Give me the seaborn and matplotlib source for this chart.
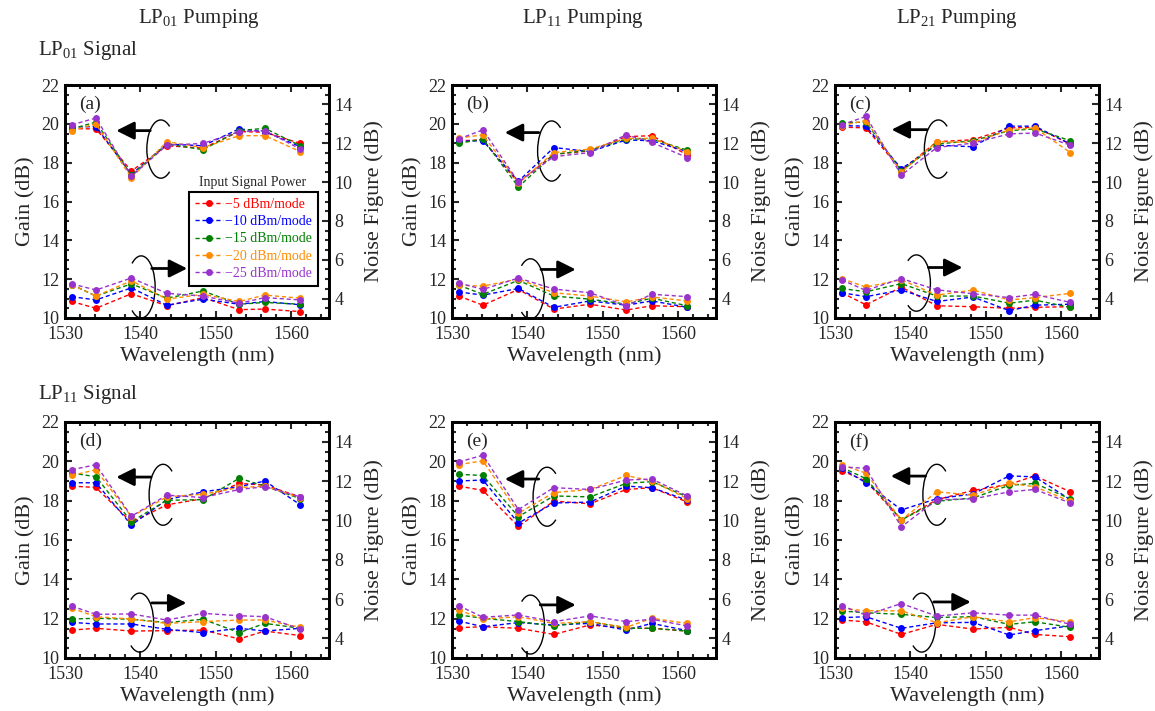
import numpy as np
import pandas as pd
import matplotlib
matplotlib.use("Agg")
import matplotlib.pyplot as plt
import seaborn as sns
from matplotlib.patches import Arc
from matplotlib.lines import Line2D
from matplotlib.ticker import MultipleLocator

# --- data ---
wavelength = [1530.9, 1534.1, 1538.8, 1543.5, 1548.3, 1553.1, 1556.5, 1561.2]
powers = ["\u22125 dBm/mode", "\u221210 dBm/mode", "\u221215 dBm/mode",
          "\u221220 dBm/mode", "\u221225 dBm/mode"]
colors = ["#ff0000", "#0000ff", "#008000", "#ff8c00", "#9933cc"]
panel_tags = ["(a)", "(b)", "(c)", "(d)", "(e)", "(f)"]
pump_titles = ["LP$_{01}$ Pumping", "LP$_{11}$ Pumping", "LP$_{21}$ Pumping"]
signal_titles = ["LP$_{01}$ Signal", "LP$_{11}$ Signal"]

# gain (dB), rows: -5, -10, -15, -20, -25 dBm/mode
gain_a = [[19.75, 19.74, 17.57, 18.87, 18.75, 19.60, 19.57, 18.99],
          [19.83, 19.86, 17.39, 18.96, 18.87, 19.74, 19.60, 18.82],
          [19.74, 20.09, 17.36, 18.96, 18.67, 19.65, 19.77, 18.87],
          [19.65, 20.00, 17.22, 19.08, 18.78, 19.39, 19.39, 18.57],
          [19.95, 20.30, 17.30, 18.90, 18.99, 19.60, 19.65, 18.70]]
gain_b = [[19.13, 19.17, 16.96, 18.43, 18.61, 19.34, 19.39, 18.40],
          [19.10, 19.13, 17.04, 18.78, 18.57, 19.17, 19.13, 18.57],
          [18.99, 19.22, 16.75, 18.43, 18.64, 19.22, 19.22, 18.64],
          [19.27, 19.43, 16.96, 18.52, 18.70, 19.25, 19.25, 18.57],
          [19.22, 19.69, 17.01, 18.31, 18.52, 19.44, 19.04, 18.26]]
gain_c = [[19.83, 19.79, 17.60, 19.08, 19.18, 19.79, 19.83, 18.96],
          [19.91, 19.88, 17.69, 18.90, 18.82, 19.88, 19.88, 18.96],
          [20.05, 20.09, 17.57, 18.96, 19.13, 19.65, 19.74, 19.13],
          [19.91, 20.17, 17.51, 19.08, 19.04, 19.69, 19.79, 18.52],
          [19.95, 20.38, 17.36, 18.78, 19.01, 19.48, 19.53, 18.90]]
gain_d = [[18.74, 18.67, 16.90, 17.79, 18.10, 18.88, 18.79, 18.19],
          [18.91, 18.91, 16.76, 18.05, 18.45, 18.71, 19.00, 17.79],
          [19.40, 19.22, 16.93, 18.02, 18.05, 19.14, 18.74, 18.10],
          [19.28, 19.57, 17.19, 18.19, 18.33, 18.67, 18.74, 18.14],
          [19.57, 19.83, 17.21, 18.28, 18.16, 18.57, 18.71, 18.19]]
gain_e = [[18.74, 18.52, 16.69, 17.98, 17.84, 18.57, 18.66, 17.93],
          [19.00, 19.05, 16.86, 17.88, 17.93, 18.74, 18.66, 18.02],
          [19.34, 19.28, 17.19, 18.24, 18.19, 18.88, 18.97, 18.19],
          [19.83, 20.03, 17.36, 18.41, 18.57, 19.28, 19.00, 18.10],
          [19.97, 20.31, 17.55, 18.66, 18.57, 19.05, 19.10, 18.24]]
gain_f = [[19.52, 19.00, 17.02, 18.05, 18.52, 18.83, 19.26, 18.45],
          [19.64, 18.91, 17.53, 18.10, 18.34, 19.26, 19.21, 18.05],
          [19.69, 19.12, 17.02, 17.97, 18.14, 18.78, 18.88, 18.09],
          [19.83, 19.40, 17.02, 18.45, 18.28, 18.88, 18.71, 17.97],
          [19.72, 19.64, 16.67, 18.05, 18.09, 18.45, 18.57, 17.88]]

# noise figure (dB)
nf_a = [[3.85, 3.50, 4.25, 3.63, 4.05, 3.43, 3.46, 3.33],
        [4.10, 3.93, 4.55, 3.66, 3.97, 3.71, 3.85, 3.68],
        [4.72, 4.13, 4.76, 4.02, 4.39, 3.71, 3.80, 3.71],
        [4.72, 4.13, 4.92, 3.97, 4.22, 3.85, 4.18, 4.02],
        [4.76, 4.44, 5.06, 4.27, 4.13, 3.76, 4.05, 3.93]]
nf_b = [[4.13, 3.66, 4.47, 3.46, 3.71, 3.41, 3.63, 3.58],
        [4.34, 4.18, 4.52, 3.55, 3.88, 3.66, 3.88, 3.55],
        [4.69, 4.22, 4.94, 4.13, 3.97, 3.71, 4.02, 3.63],
        [4.69, 4.64, 5.01, 4.30, 4.13, 3.83, 4.08, 3.88],
        [4.81, 4.47, 5.06, 4.49, 4.30, 3.63, 4.22, 4.10]]
nf_c = [[4.30, 3.68, 4.59, 3.63, 3.58, 3.50, 3.55, 3.58],
        [4.30, 4.10, 4.44, 3.85, 4.08, 3.38, 3.66, 3.71],
        [4.52, 4.35, 4.77, 4.13, 4.13, 3.76, 3.92, 3.55],
        [5.03, 4.59, 4.97, 4.18, 4.44, 3.93, 4.05, 4.27],
        [4.96, 4.42, 5.03, 4.45, 4.25, 4.05, 4.22, 3.80]]
nf_d = [[4.42, 4.51, 4.37, 4.39, 4.42, 3.97, 4.37, 4.14],
        [4.81, 4.73, 4.73, 4.46, 4.29, 4.51, 4.37, 4.51],
        [4.98, 5.02, 4.97, 4.80, 4.97, 4.29, 4.76, 4.51],
        [5.53, 5.10, 4.98, 4.76, 4.85, 4.93, 4.93, 4.56],
        [5.64, 5.22, 5.24, 4.93, 5.27, 5.15, 5.10, 4.47]]
nf_e = [[4.54, 4.59, 4.51, 4.20, 4.68, 4.51, 4.51, 4.37],
        [4.88, 4.59, 4.80, 4.68, 4.76, 4.42, 4.76, 4.39],
        [5.19, 5.02, 4.85, 4.63, 4.85, 4.51, 4.51, 4.37],
        [5.44, 4.98, 5.10, 4.76, 4.85, 4.56, 5.02, 4.76],
        [5.66, 5.07, 5.19, 4.85, 5.14, 4.85, 4.97, 4.63]]
nf_f = [[4.93, 4.84, 4.20, 4.71, 4.47, 4.56, 4.20, 4.08],
        [5.05, 5.10, 4.51, 4.79, 4.81, 4.17, 4.39, 4.64],
        [5.39, 5.30, 5.22, 5.06, 5.10, 4.71, 4.84, 4.56],
        [5.52, 5.40, 5.40, 4.79, 5.10, 4.84, 5.05, 4.84],
        [5.66, 5.18, 5.77, 5.13, 5.30, 5.18, 5.18, 4.71]]

gains = [gain_a, gain_b, gain_c, gain_d, gain_e, gain_f]
nfs = [nf_a, nf_b, nf_c, nf_d, nf_e, nf_f]

# ellipse + arrow markers: (cx, cy, w, h, arrow_y, arrow_x0, arrow_x1) in gain-axis coords
upper_marks = [(1542.7, 18.7, 3.7, 3.0, 19.65, 1541.3, 1536.8),
               (1543.2, 18.6, 3.7, 3.1, 19.55, 1541.5, 1537.0),
               (1543.7, 18.7, 3.7, 3.0, 19.70, 1542.2, 1537.5),
               (1543.0, 18.3, 3.7, 3.1, 19.20, 1541.4, 1536.8),
               (1542.6, 18.2, 3.7, 3.0, 19.10, 1541.5, 1537.0),
               (1543.5, 18.3, 3.7, 3.1, 19.25, 1542.0, 1537.4)]
lower_marks = [(1540.1, 11.6, 3.7, 3.2, 12.55, 1541.5, 1546.2),
               (1540.4, 11.5, 3.7, 3.1, 12.50, 1541.8, 1546.4),
               (1540.8, 11.8, 3.7, 2.9, 12.60, 1542.4, 1546.9),
               (1539.9, 11.8, 3.7, 3.0, 12.80, 1541.5, 1546.1),
               (1540.4, 11.7, 3.7, 3.0, 12.70, 1541.7, 1546.4),
               (1541.5, 11.8, 3.7, 3.0, 12.85, 1543.1, 1548.0)]

sns.set_theme(style="ticks")
plt.rcParams["font.family"] = ["Liberation Serif", "DejaVu Serif"]
plt.rcParams["mathtext.fontset"] = "custom"
plt.rcParams["mathtext.rm"] = "Liberation Serif"
plt.rcParams["mathtext.it"] = "Liberation Serif:italic"
plt.rcParams["axes.unicode_minus"] = True

W, H = 1155, 711
fig = plt.figure(figsize=(W / 100, H / 100), dpi=100)

col_left = [65, 452, 835]
row_span = [(85, 318), (422, 658)]
ax_w = 264

arrow_style = "-|>,head_length=0.6,head_width=0.3"

for k in range(6):
    r, c = divmod(k, 3)
    top, bot = row_span[r]
    ax = fig.add_axes([col_left[c] / W, 1 - bot / H, ax_w / W, (bot - top) / H])
    ax2 = ax.twinx()

    gdf = pd.DataFrame({
        "wl": np.tile(wavelength, len(powers)),
        "val": np.ravel(gains[k]),
        "power": np.repeat(powers, len(wavelength)),
    })
    ndf = pd.DataFrame({
        "wl": np.tile(wavelength, len(powers)),
        "val": np.ravel(nfs[k]),
        "power": np.repeat(powers, len(wavelength)),
    })
    line_kw = dict(x="wl", y="val", hue="power", hue_order=powers, palette=colors,
                   marker="o", markersize=5, markeredgewidth=0, linewidth=1,
                   linestyle=(0, (3, 2)), errorbar=None, legend=False)
    sns.lineplot(data=gdf, ax=ax, **line_kw)
    sns.lineplot(data=ndf, ax=ax2, **line_kw)

    ax.set_xlim(1530, 1565)
    ax.set_ylim(10, 22)
    ax2.set_ylim(3, 15)
    ax.xaxis.set_major_locator(MultipleLocator(10))
    ax.xaxis.set_minor_locator(MultipleLocator(2))
    ax.yaxis.set_major_locator(MultipleLocator(2))
    ax.yaxis.set_minor_locator(MultipleLocator(0.5))
    ax2.yaxis.set_major_locator(MultipleLocator(2))
    ax2.yaxis.set_minor_locator(MultipleLocator(0.5))
    ax2.set_yticks([4, 6, 8, 10, 12, 14])

    ax.tick_params(which="both", direction="in", top=True, right=False,
                   labelsize=13, width=1.5)
    ax.tick_params(axis="x", pad=6)
    ax.tick_params(axis="y", pad=4)
    ax.tick_params(which="major", length=5)
    ax.tick_params(which="minor", length=3)
    ax2.tick_params(which="both", direction="in", labelsize=13, width=1.5, pad=4)
    ax2.tick_params(which="major", length=5)
    ax2.tick_params(which="minor", length=3)
    for a in (ax, ax2):
        for sp in a.spines.values():
            sp.set_linewidth(2)
            sp.set_color("black")

    ax.set_xlabel("Wavelength (nm)", fontsize=16, labelpad=2)
    ax.set_ylabel("Gain (dB)", fontsize=16, labelpad=4)
    ax2.set_ylabel("Noise Figure (dB)", fontsize=16, labelpad=8)

    ax.text(0.055, 0.955, panel_tags[k], transform=ax.transAxes,
            fontsize=14, ha="left", va="top")

    cx, cy, w, h, ay, x0, x1 = upper_marks[k]
    ax.add_patch(Arc((cx, cy), w, h, theta1=45, theta2=315, color="black", lw=1))
    ax.annotate("", xy=(x1, ay), xytext=(x0, ay),
                arrowprops=dict(arrowstyle=arrow_style, color="black", lw=2,
                                mutation_scale=18, shrinkA=0, shrinkB=0))
    cx, cy, w, h, ay, x0, x1 = lower_marks[k]
    ax.add_patch(Arc((cx, cy), w, h, theta1=-135, theta2=135, color="black", lw=1,
                     clip_on=False))
    ax.annotate("", xy=(x1, ay), xytext=(x0, ay),
                arrowprops=dict(arrowstyle=arrow_style, color="black", lw=2,
                                mutation_scale=18, shrinkA=0, shrinkB=0))

    if k == 0:
        handles = [Line2D([], [], color=col, linestyle=(0, (3, 2)), linewidth=1,
                          marker="o", markersize=5, markeredgewidth=0)
                   for col in colors]
        leg = ax2.legend(handles, powers, loc="upper right",
                         bbox_to_anchor=(0.958, 0.541), fontsize=10,
                         frameon=True, fancybox=False, framealpha=1,
                         edgecolor="black", handlelength=2.0, handletextpad=0.2,
                         borderpad=0.4, labelspacing=0.32, borderaxespad=0)
        leg.get_frame().set_linewidth(1.5)
        for txt, col in zip(leg.get_texts(), colors):
            txt.set_color(col)
        ax2.text(0.71, 0.552, "Input Signal Power", transform=ax2.transAxes,
                 ha="center", va="bottom", fontsize=10)

for c, title in enumerate(pump_titles):
    fig.text([199, 583, 957][c] / W, 1 - 18 / H, title, ha="center", va="center",
             fontsize=15)
for r, title in enumerate(signal_titles):
    fig.text(38 / W, 1 - [50, 394][r] / H, title, ha="left", va="center", fontsize=15)

fig.savefig("out.png", dpi=100)
